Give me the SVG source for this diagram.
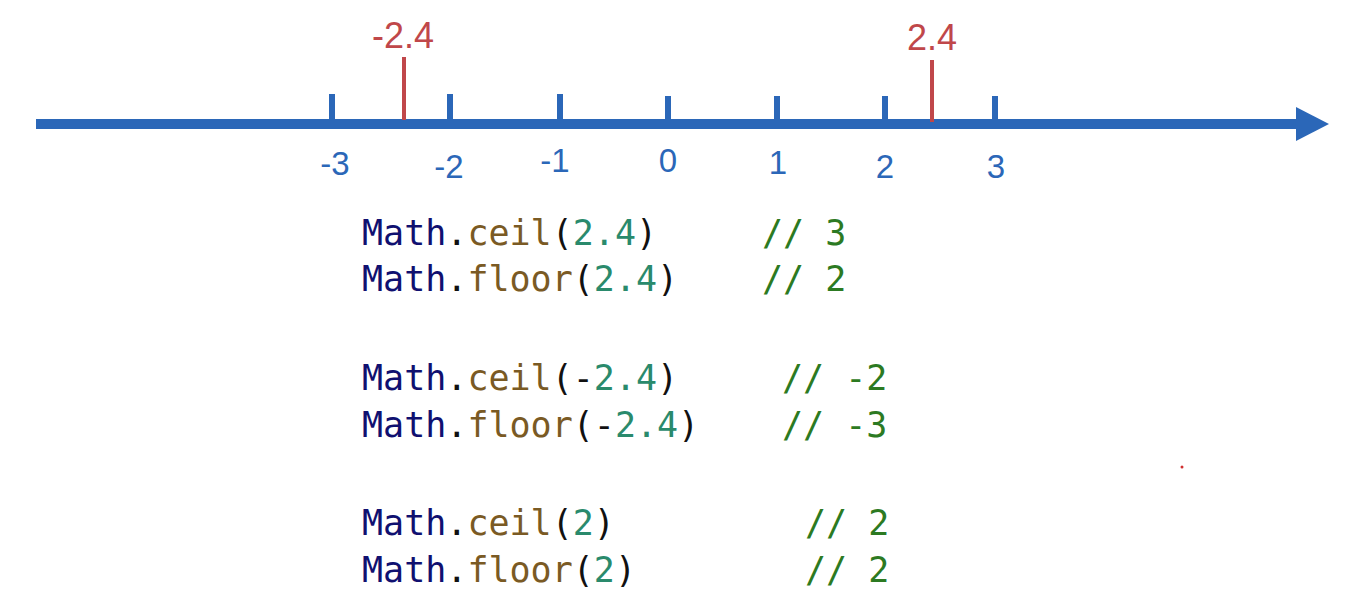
<svg xmlns="http://www.w3.org/2000/svg" width="1352" height="610" viewBox="0 0 1352 610">
<style>
.ax{fill:#2B67B8}
.tick{stroke:#2B67B8;stroke-width:6}
.rt{stroke:#C0474A;stroke-width:4}
.nl{font-family:"Liberation Sans","Open Sans",sans-serif;font-size:33px;fill:#2B67B8;text-anchor:middle}
.rl{font-family:"Liberation Sans","Open Sans",sans-serif;font-size:36px;fill:#C0474A;text-anchor:middle}
.code{font-family:"DejaVu Sans Mono","Liberation Mono",monospace;font-size:35px;fill:#111}
.m{fill:#101070}
.f{fill:#7A5A24}
.n{fill:#2A8A6C}
.c{fill:#2C7A22}
</style>
<rect width="1352" height="610" fill="#FFFFFF"/>
<g id="axis">
<rect class="ax" x="36" y="119" width="1264" height="10"/>
<polygon class="ax" points="1296,107 1329,124 1296,141"/>
</g>
<g id="ticks">
<line class="tick" x1="332" y1="94" x2="332" y2="120"/>
<line class="tick" x1="450" y1="94" x2="450" y2="120"/>
<line class="tick" x1="560" y1="94" x2="560" y2="120"/>
<line class="tick" x1="668" y1="96" x2="668" y2="120"/>
<line class="tick" x1="777" y1="96" x2="777" y2="120"/>
<line class="tick" x1="885" y1="96" x2="885" y2="120"/>
<line class="tick" x1="995" y1="96" x2="995" y2="120"/>
<line class="rt" x1="404" y1="57" x2="404" y2="120"/>
<line class="rt" x1="932" y1="60" x2="932" y2="122"/>
</g>
<g id="labels">
<text class="nl" x="335" y="175">-3</text>
<text class="nl" x="449" y="178">-2</text>
<text class="nl" x="555" y="172">-1</text>
<text class="nl" x="668" y="172">0</text>
<text class="nl" x="778" y="174">1</text>
<text class="nl" x="885" y="178">2</text>
<text class="nl" x="996" y="178">3</text>
<text class="rl" x="403" y="48">-2.4</text>
<text class="rl" x="932" y="50">2.4</text>
</g>
<g id="code">
<text class="code" x="362" y="245"><tspan class="m">Math</tspan>.<tspan class="f">ceil</tspan>(<tspan class="n">2.4</tspan>)</text>
<text class="code c" x="762" y="245">// 3</text>
<text class="code" x="362" y="291"><tspan class="m">Math</tspan>.<tspan class="f">floor</tspan>(<tspan class="n">2.4</tspan>)</text>
<text class="code c" x="762" y="291">// 2</text>
<text class="code" x="362" y="390"><tspan class="m">Math</tspan>.<tspan class="f">ceil</tspan>(-<tspan class="n">2.4</tspan>)</text>
<text class="code c" x="782" y="390">// -2</text>
<text class="code" x="362" y="437"><tspan class="m">Math</tspan>.<tspan class="f">floor</tspan>(-<tspan class="n">2.4</tspan>)</text>
<text class="code c" x="782" y="437">// -3</text>
<text class="code" x="362" y="535"><tspan class="m">Math</tspan>.<tspan class="f">ceil</tspan>(<tspan class="n">2</tspan>)</text>
<text class="code c" x="805" y="535">// 2</text>
<text class="code" x="362" y="582"><tspan class="m">Math</tspan>.<tspan class="f">floor</tspan>(<tspan class="n">2</tspan>)</text>
<text class="code c" x="805" y="582">// 2</text>
</g>
<circle cx="1182" cy="467" r="1.5" fill="#D03030"/>
</svg>
